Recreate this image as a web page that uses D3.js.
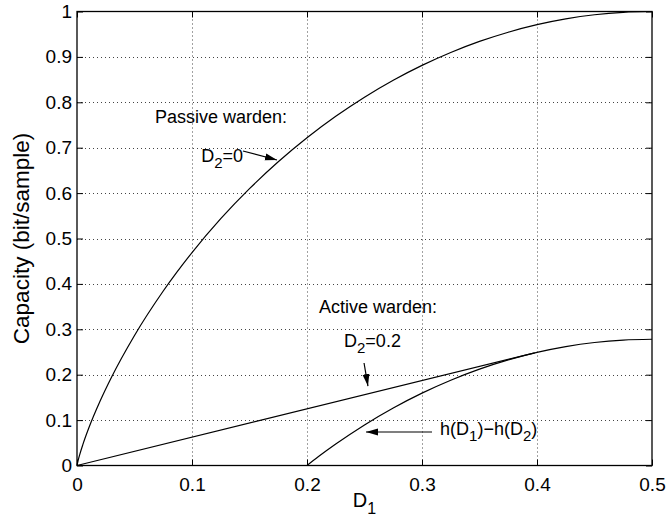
<!DOCTYPE html>
<meta charset="utf-8">

<style>
  body { margin: 0; background: #fff; }
  text { font-family: "Liberation Sans", Arial, Helvetica, sans-serif; fill: #000; }
</style>

<svg class="chart"></svg>

<script src="https://d3js.org/d3.v7.min.js"></script>
<script>

  // capacity vs D1
  var passiveD1 = [0, 0.001, 0.0025, 0.005, 0.01, 0.02, 0.03, 0.05, 0.075, 0.1, 0.125, 0.15, 0.175,
                   0.2, 0.225, 0.25, 0.275, 0.3, 0.325, 0.35, 0.375, 0.4, 0.425, 0.45, 0.475, 0.5];
  var passiveC  = [0, 0.0114, 0.0252, 0.0454, 0.0808, 0.1414, 0.1944, 0.2864, 0.3843, 0.4690, 0.5436, 0.6098, 0.6690,
                   0.7219, 0.7692, 0.8113, 0.8486, 0.8813, 0.9097, 0.9341, 0.9544, 0.9710, 0.9837, 0.9928, 0.9982, 1.0];

  var activeD1 = [0.2, 0.21, 0.225, 0.25, 0.275, 0.3, 0.325, 0.35, 0.375, 0.4, 0.425, 0.45, 0.475, 0.5];
  var activeC  = [0, 0.0197, 0.0473, 0.0894, 0.1267, 0.1594, 0.1878, 0.2122, 0.2325, 0.2491, 0.2618, 0.2709, 0.2763, 0.2781];

  var tangentD1 = [0, 0.398];
  var tangentC  = [0, 0.248];

  var xTicks = [0, 0.1, 0.2, 0.3, 0.4, 0.5];
  var yTicks = [0, 0.1, 0.2, 0.3, 0.4, 0.5, 0.6, 0.7, 0.8, 0.9, 1];

  var width  = 668;
  var height = 518;
  var margin = { top: 11.5, right: 16, bottom: 52.5, left: 77 };

  var chart = d3.select(".chart")
      .attr("width", width)
      .attr("height", height);

  var x = d3.scaleLinear().domain([0, 0.5]).range([margin.left, width - margin.right]);
  var y = d3.scaleLinear().domain([0, 1]).range([height - margin.bottom, margin.top]);

  var x0 = x.range()[0], x1 = x.range()[1];
  var y0 = y.range()[0], y1 = y.range()[1];

  // dotted grid
  var grid = chart.append("g")
      .attr("stroke", "#444")
      .attr("stroke-width", 1)
      .attr("stroke-dasharray", "1,3");

  grid.selectAll("line.gx")
    .data(xTicks.slice(1, -1))
    .enter().append("line")
      .attr("x1", function(d) { return Math.round(x(d)) + 0.5; })
      .attr("x2", function(d) { return Math.round(x(d)) + 0.5; })
      .attr("y1", y1)
      .attr("y2", y0);

  grid.selectAll("line.gy")
    .data(yTicks.slice(1, -1))
    .enter().append("line")
      .attr("y1", function(d) { return Math.round(y(d)) + 0.5; })
      .attr("y2", function(d) { return Math.round(y(d)) + 0.5; })
      .attr("x1", x0)
      .attr("x2", x1);

  // axes with inward ticks on all four sides
  var tickLen = 6;
  var fmt = function(d) { return d === 0 || d === 1 ? String(d) : d3.format(".1f")(d); };

  chart.append("g")
      .attr("transform", "translate(0," + y0 + ")")
      .call(d3.axisBottom(x).tickValues(xTicks).tickFormat(fmt).tickSizeInner(-tickLen).tickSizeOuter(0).tickPadding(12));
  chart.append("g")
      .attr("transform", "translate(0," + y1 + ")")
      .call(d3.axisTop(x).tickValues(xTicks).tickFormat("").tickSizeInner(-tickLen).tickSizeOuter(0));
  chart.append("g")
      .attr("transform", "translate(" + x0 + ",0)")
      .call(d3.axisLeft(y).tickValues(yTicks).tickFormat(fmt).tickSizeInner(-tickLen).tickSizeOuter(0).tickPadding(5));
  chart.append("g")
      .attr("transform", "translate(" + x1 + ",0)")
      .call(d3.axisRight(y).tickValues(yTicks).tickFormat("").tickSizeInner(-tickLen).tickSizeOuter(0));

  chart.selectAll(".tick text")
      .attr("font-size", 19)
      .attr("font-family", "Liberation Sans, Arial, sans-serif")
      .attr("fill", "#000");
  chart.selectAll(".domain").remove();
  chart.selectAll(".tick line").attr("stroke", "#000");

  chart.append("rect")
      .attr("x", x0)
      .attr("y", y1)
      .attr("width", x1 - x0)
      .attr("height", y0 - y1)
      .attr("fill", "none")
      .attr("stroke", "#000")
      .attr("stroke-width", 1.3);

  // curves
  var line = d3.line()
      .x(function(d) { return x(d[0]); })
      .y(function(d) { return y(d[1]); })
      .curve(d3.curveMonotoneX);

  var series = [
    d3.zip(passiveD1, passiveC),
    d3.zip(activeD1, activeC),
    d3.zip(tangentD1, tangentC)
  ];

  chart.append("g")
    .selectAll("path")
    .data(series)
    .enter().append("path")
      .attr("d", line)
      .attr("fill", "none")
      .attr("stroke", "#000")
      .attr("stroke-width", 1.2);

  // axis labels
  var xl = chart.append("text")
      .attr("x", (x0 + x1) / 2)
      .attr("y", 507)
      .attr("text-anchor", "middle")
      .attr("font-size", 20);
  xl.append("tspan").text("D");
  xl.append("tspan").attr("dy", 7).attr("font-size", 16).text("1");

  chart.append("text")
      .attr("transform", "translate(29," + ((y0 + y1) / 2) + ") rotate(-90)")
      .attr("text-anchor", "middle")
      .attr("font-size", 22.5)
      .text("Capacity (bit/sample)");

  // annotations (data units)
  chart.append("defs").append("marker")
      .attr("id", "head")
      .attr("viewBox", "0 -4 12 8")
      .attr("refX", 12)
      .attr("refY", 0)
      .attr("markerWidth", 12)
      .attr("markerHeight", 8)
      .attr("markerUnits", "userSpaceOnUse")
      .attr("orient", "auto")
    .append("path")
      .attr("d", "M0,-3.5L12,0L0,3.5Z")
      .attr("fill", "#000");

  var notes = [
    { at: [0.0678, 0.754], parts: [["Passive warden:", 0]] },
    { at: [0.108, 0.669], parts: [["D", 0], ["2", 1], ["=0", -1]] },
    { at: [0.2104, 0.336], parts: [["Active warden:", 0]] },
    { at: [0.2322, 0.262], parts: [["D", 0], ["2", 1], ["=0.2", -1]] },
    { at: [0.3157, 0.0672], parts: [["h(D", 0], ["1", 1], [")\u2212h(D", -1], ["2", 1], [")", -1]] }
  ];

  var arrows = [
    [[0.1443, 0.6927], [0.1739, 0.6729]],
    [[0.2496, 0.2258], [0.2530, 0.1750]],
    [[0.3087, 0.0738], [0.2513, 0.0738]]
  ];

  notes.forEach(function(n) {
    var t = chart.append("text")
        .attr("x", x(n.at[0]))
        .attr("y", y(n.at[1]))
        .attr("font-size", 18);
    n.parts.forEach(function(p) {
      var s = t.append("tspan").text(p[0]);
      if (p[1] === 1) s.attr("dy", 6).attr("font-size", 15);
      if (p[1] === -1) s.attr("dy", -6);
    });
  });

  chart.append("g")
    .selectAll("line")
    .data(arrows)
    .enter().append("line")
      .attr("x1", function(d) { return x(d[0][0]); })
      .attr("y1", function(d) { return y(d[0][1]); })
      .attr("x2", function(d) { return x(d[1][0]); })
      .attr("y2", function(d) { return y(d[1][1]); })
      .attr("stroke", "#000")
      .attr("stroke-width", 1.2)
      .attr("marker-end", "url(#head)");

</script>
